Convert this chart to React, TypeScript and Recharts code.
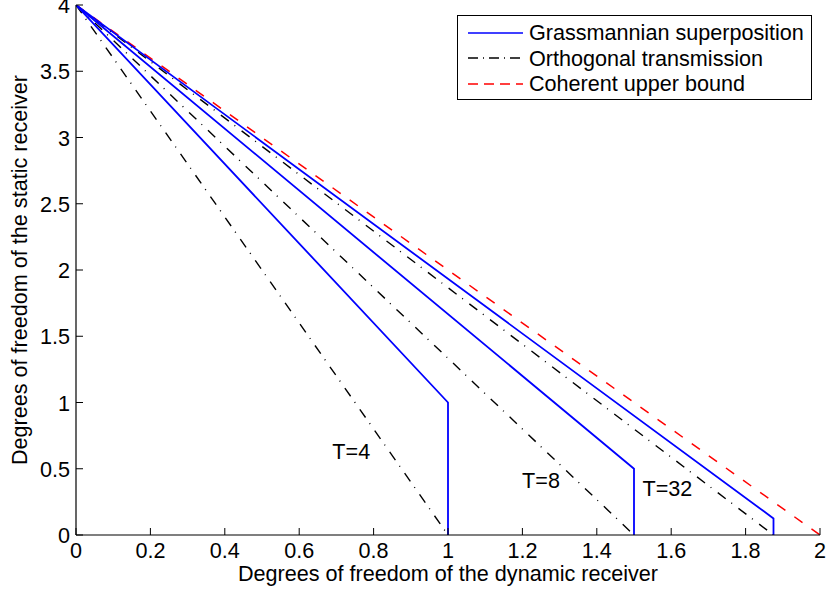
import React from 'react';
import { ComposedChart, Line, XAxis, YAxis, Scatter, Legend } from 'recharts';

const xTicks = [0, 0.2, 0.4, 0.6, 0.8, 1, 1.2, 1.4, 1.6, 1.8, 2];
const yTicks = [0, 0.5, 1, 1.5, 2, 2.5, 3, 3.5, 4];

// Grassmannian superposition, one curve per block length T
const grassT4X = [0, 1, 1];
const grassT4Y = [4, 1, 0];
const grassT8X = [0, 1.5, 1.5];
const grassT8Y = [4, 0.5, 0];
const grassT32X = [0, 1.875, 1.875];
const grassT32Y = [4, 0.125, 0];

// orthogonal transmission
const orthT4X = [0, 1];
const orthT4Y = [4, 0];
const orthT8X = [0, 1.5];
const orthT8Y = [4, 0];
const orthT32X = [0, 1.875];
const orthT32Y = [4, 0];

// coherent upper bound
const coherentX = [0, 2];
const coherentY = [4, 0];

const annotations = [
  { x: 0.74, y: 0.63, text: 'T=4' },
  { x: 1.25, y: 0.41, text: 'T=8' },
  { x: 1.59, y: 0.35, text: 'T=32' },
];

const FONT = "'Liberation Sans', Arial, Helvetica, sans-serif";
const FS = 21.6;
const BLUE = '#0000ff';
const DASHDOT = '10 7 1 8';
const DASHED = '10 11';

const legendItems = [
  { name: 'Grassmannian superposition', color: BLUE, dash: undefined },
  { name: 'Orthogonal transmission', color: '#000000', dash: '10 5 1 5' },
  { name: 'Coherent upper bound', color: '#ff0000', dash: '10 6' },
];

const toPoints = (xs: number[], ys: number[]) => xs.map((x, i) => ({ x, y: ys[i] }));

const BottomTick = (props: any) => {
  const { x, y, payload } = props;
  return (
    <g>
      <line x1={x} y1={y} x2={x} y2={y - 7} stroke="#000" />
      <text x={x} y={y + 22.5} textAnchor="middle" fontSize={FS} fontFamily={FONT} fill="#000">
        {payload.value}
      </text>
    </g>
  );
};

const TopTick = (props: any) => {
  const { x, y } = props;
  return <line x1={x} y1={y} x2={x} y2={y + 7} stroke="#000" />;
};

const LeftTick = (props: any) => {
  const { x, y, payload } = props;
  return (
    <g>
      <line x1={x} y1={y} x2={x + 7} y2={y} stroke="#000" />
      <text x={x - 6} y={y + 8} textAnchor="end" fontSize={FS} fontFamily={FONT} fill="#000">
        {payload.value}
      </text>
    </g>
  );
};

const RightTick = (props: any) => {
  const { x, y } = props;
  return <line x1={x} y1={y} x2={x - 7} y2={y} stroke="#000" />;
};

const AnnotationText = (props: any) => {
  const { cx, cy, payload } = props;
  return (
    <text x={cx} y={cy + 7.5} textAnchor="middle" fontSize={FS} fontFamily={FONT} fill="#000">
      {payload.text}
    </text>
  );
};

const LegendBox = () => (
  <div
    style={{
      width: 355,
      height: 85,
      border: '1px solid #000',
      background: '#fff',
      fontFamily: FONT,
      fontSize: FS,
      boxSizing: 'border-box',
      paddingTop: 4,
    }}
  >
    {legendItems.map((item) => (
      <div key={item.name} style={{ display: 'flex', alignItems: 'center', height: 25.5, lineHeight: '25px' }}>
        <svg width={70} height={20} style={{ flex: 'none' }}>
          <line x1={10} y1={10} x2={65} y2={10} stroke={item.color} strokeWidth={1.7} strokeDasharray={item.dash} />
        </svg>
        <span style={{ marginLeft: 1, whiteSpace: 'nowrap' }}>{item.name}</span>
      </div>
    ))}
  </div>
);

const App = () => {
  return (
    <div style={{ position: 'absolute', left: 0, top: 0, width: 827, height: 596, background: '#fff' }}>
      <ComposedChart width={827} height={596} margin={{ top: 5, right: 7, bottom: 21, left: 16 }}>
        <XAxis
          xAxisId="b"
          dataKey="x"
          type="number"
          domain={[0, 2]}
          ticks={xTicks}
          interval={0}
          height={40}
          tickSize={0}
          tickMargin={0}
          tickLine={false}
          tick={<BottomTick />}
          axisLine={{ stroke: '#000', strokeWidth: 1.2 }}
          allowDataOverflow
          label={{
            content: (p: any) => (
              <text
                x={p.viewBox.x + p.viewBox.width / 2}
                y={p.viewBox.y + 45.5}
                textAnchor="middle"
                fontSize={FS}
                fontFamily={FONT}
                fill="#000"
              >
                Degrees of freedom of the dynamic receiver
              </text>
            ),
          }}
        />
        <XAxis
          xAxisId="t"
          orientation="top"
          dataKey="x"
          type="number"
          domain={[0, 2]}
          ticks={xTicks}
          interval={0}
          height={0}
          tickSize={0}
          tickMargin={0}
          tickLine={false}
          tick={<TopTick />}
          axisLine={{ stroke: '#000', strokeWidth: 1.2 }}
        />
        <YAxis
          yAxisId="l"
          type="number"
          domain={[0, 4]}
          ticks={yTicks}
          interval={0}
          width={60}
          tickSize={0}
          tickMargin={0}
          tickLine={false}
          tick={<LeftTick />}
          axisLine={{ stroke: '#000', strokeWidth: 1.2 }}
          allowDataOverflow
          label={{
            content: (p: any) => {
              const cx = 27;
              const cy = p.viewBox.y + p.viewBox.height / 2;
              return (
                <text
                  x={cx}
                  y={cy}
                  transform={`rotate(-90 ${cx} ${cy})`}
                  textAnchor="middle"
                  fontSize={FS}
                  fontFamily={FONT}
                  fill="#000"
                >
                  Degrees of freedom of the static receiver
                </text>
              );
            },
          }}
        />
        <YAxis
          yAxisId="r"
          orientation="right"
          type="number"
          domain={[0, 4]}
          ticks={yTicks}
          interval={0}
          width={0}
          tickSize={0}
          tickMargin={0}
          tickLine={false}
          tick={<RightTick />}
          axisLine={{ stroke: '#000', strokeWidth: 1.2 }}
        />

        <Line xAxisId="b" yAxisId="l" data={toPoints(orthT4X, orthT4Y)} dataKey="y" stroke="#000" strokeWidth={1.4} strokeDasharray={DASHDOT} dot={false} isAnimationActive={false} />
        <Line xAxisId="b" yAxisId="l" data={toPoints(orthT8X, orthT8Y)} dataKey="y" stroke="#000" strokeWidth={1.4} strokeDasharray={DASHDOT} dot={false} isAnimationActive={false} />
        <Line xAxisId="b" yAxisId="l" data={toPoints(orthT32X, orthT32Y)} dataKey="y" stroke="#000" strokeWidth={1.4} strokeDasharray={DASHDOT} dot={false} isAnimationActive={false} />
        <Line xAxisId="b" yAxisId="l" data={toPoints(coherentX, coherentY)} dataKey="y" stroke="#ff0000" strokeWidth={1.5} strokeDasharray={DASHED} dot={false} isAnimationActive={false} />
        <Line xAxisId="b" yAxisId="l" data={toPoints(grassT4X, grassT4Y)} dataKey="y" stroke={BLUE} strokeWidth={1.8} dot={false} isAnimationActive={false} />
        <Line xAxisId="b" yAxisId="l" data={toPoints(grassT8X, grassT8Y)} dataKey="y" stroke={BLUE} strokeWidth={1.8} dot={false} isAnimationActive={false} />
        <Line xAxisId="b" yAxisId="l" data={toPoints(grassT32X, grassT32Y)} dataKey="y" stroke={BLUE} strokeWidth={1.8} dot={false} isAnimationActive={false} />

        <Scatter xAxisId="b" yAxisId="l" data={annotations} dataKey="y" shape={<AnnotationText />} isAnimationActive={false} />

        <Legend
          layout="horizontal"
          align="center"
          verticalAlign="middle"
          content={() => <LegendBox />}
          wrapperStyle={{ top: 15, left: 457, width: 355, height: 85 }}
        />
      </ComposedChart>
    </div>
  );
};

export default App;
